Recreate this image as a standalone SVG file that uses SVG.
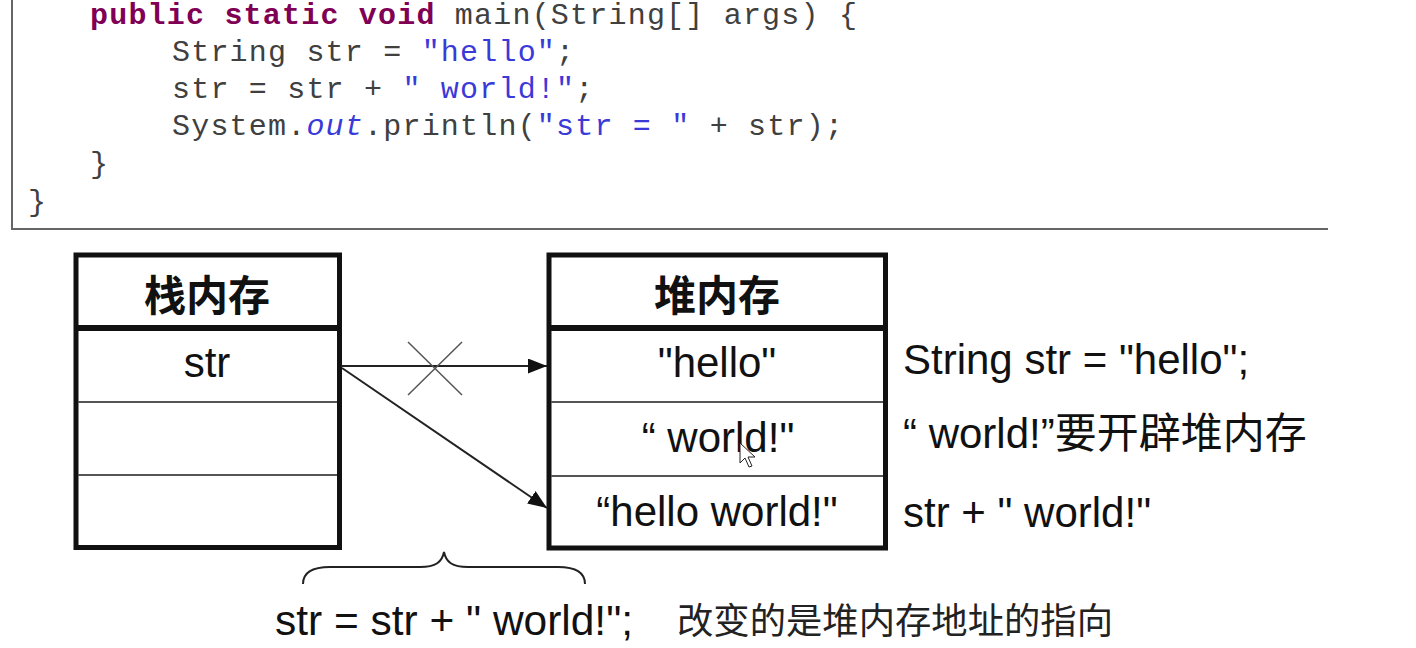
<svg xmlns="http://www.w3.org/2000/svg" width="1416" height="648" viewBox="0 0 1416 648">
<style>
.code{font-family:"Liberation Mono","DejaVu Sans Mono",monospace;font-size:30px;letter-spacing:1.2px;fill:#404040}
.kw{fill:#7f0055;font-weight:bold}
.str{fill:#3a3ad8}
.fld{fill:#3a3ad8;font-style:italic}
.title{font-family:"Noto Sans CJK SC",sans-serif;font-size:42px;font-weight:bold;fill:#111;text-anchor:middle}
.cell{font-family:"Liberation Sans","Noto Sans CJK SC",sans-serif;font-size:42px;fill:#111;text-anchor:middle}
.lbl{font-family:"Liberation Sans","Noto Sans CJK SC",sans-serif;font-size:42px;fill:#111}
.cn{font-family:"Noto Sans CJK SC",sans-serif;font-size:36px;fill:#222}
.frame{fill:#fff;stroke:#111;stroke-width:5}
.hdr{stroke:#111;stroke-width:6}
.row{stroke:#555;stroke-width:2}
.conn{stroke:#222;stroke-width:2;fill:none}
</style>
<defs>
<marker id="ah" markerUnits="userSpaceOnUse" markerWidth="19" markerHeight="15" refX="19" refY="7.5" orient="auto">
<path d="M0,0 L19,7.5 L0,15 z" fill="#111"/>
</marker>
</defs>
<rect width="1416" height="648" fill="#fff"/>
<g id="code">
<path d="M12,-2 V229 H1328" fill="none" stroke="#666" stroke-width="2"/>
<text class="code" x="90" y="24" xml:space="preserve"><tspan class="kw">public static void</tspan> main(String[] args) {</text>
<text class="code" x="172" y="61" xml:space="preserve">String str = <tspan class="str">"hello"</tspan>;</text>
<text class="code" x="172" y="98" xml:space="preserve">str = str + <tspan class="str">" world!"</tspan>;</text>
<text class="code" x="172" y="135" xml:space="preserve">System.<tspan class="fld">out</tspan>.println(<tspan class="str">"str = "</tspan> + str);</text>
<text class="code" x="90" y="173">}</text>
<text class="code" x="28" y="211">}</text>
</g>
<g id="stack">
<rect class="frame" x="76" y="255" width="263.5" height="292.5"/>
<line class="hdr" x1="76" y1="328" x2="339.5" y2="328"/>
<line class="row" x1="78" y1="402" x2="337" y2="402"/>
<line class="row" x1="78" y1="475" x2="337" y2="475"/>
<text class="title" x="207" y="311">栈内存</text>
<text class="cell" x="207" y="377">str</text>
</g>
<g id="heap">
<rect class="frame" x="549" y="255" width="336.5" height="293"/>
<line class="hdr" x1="549" y1="328" x2="885.5" y2="328"/>
<line class="row" x1="551" y1="402" x2="883" y2="402"/>
<line class="row" x1="551" y1="476" x2="883" y2="476"/>
<text class="title" x="717" y="311">堆内存</text>
<text class="cell" x="717" y="377">"hello"</text>
<text class="cell" x="718" y="452">“ world!"</text>
<text class="cell" x="717" y="526">“hello world!"</text>
</g>
<g id="connectors">
<line class="conn" x1="341" y1="366" x2="547" y2="366" marker-end="url(#ah)"/>
<line class="conn" x1="342" y1="368" x2="547" y2="508" marker-end="url(#ah)"/>
<g stroke="#555" stroke-width="1.5">
<line x1="408" y1="342" x2="462" y2="395"/>
<line x1="408" y1="395" x2="462" y2="342"/>
</g>
<path class="conn" stroke="#333" d="M303,584 C303,572 313,567 330,567 L420,567 C436,567 442,562 444,552 C446,562 452,567 468,567 L558,567 C575,567 585,572 585,584"/>
</g>
<g id="labels">
<text class="lbl" x="903" y="374">String str = "hello";</text>
<text class="lbl" x="903" y="448">“ world!”要开辟堆内存</text>
<text class="lbl" x="903" y="527">str + " world!"</text>
<text class="lbl" x="275" y="635" textLength="358" lengthAdjust="spacingAndGlyphs">str = str + " world!";</text>
<text class="cn" x="677" y="634" textLength="436" lengthAdjust="spacingAndGlyphs">改变的是堆内存地址的指向</text>
</g>
<g id="cursor">
<path d="M740,443 L740,463 L745,458 L749,467 L752,466 L748,457 L755,457 Z" fill="#fff" stroke="#222" stroke-width="1"/>
</g>
</svg>
